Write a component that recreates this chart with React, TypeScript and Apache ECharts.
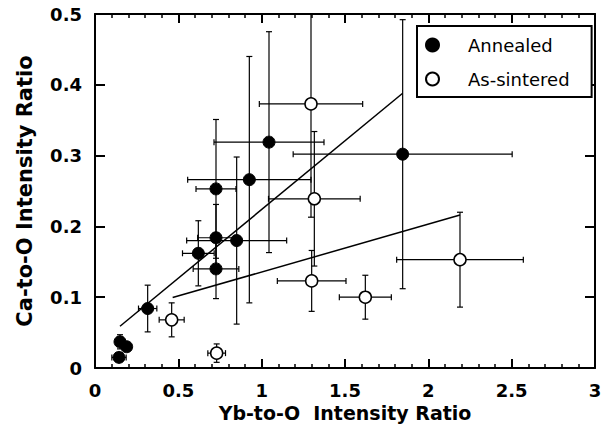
import React, { useEffect, useRef } from "react";
import * as echarts from "echarts";

// Annealed samples
const annealedX = [0.144, 0.15, 0.19, 0.316, 0.62, 0.726, 0.726, 0.85, 0.726, 0.926, 1.044, 1.846];
const annealedY = [0.015, 0.037, 0.03, 0.084, 0.162, 0.184, 0.14, 0.18, 0.253, 0.266, 0.319, 0.302];
const annealedXErr = [0.043, 0.02, 0.02, 0.055, 0.095, 0.11, 0.137, 0.3, 0.12, 0.37, 0.33, 0.657];
const annealedYErr = [0.006, 0.01, 0.006, 0.033, 0.046, 0.047, 0.042, 0.118, 0.098, 0.174, 0.156, 0.19];

// As-sintered samples
const sinteredX = [1.296, 1.316, 1.3, 1.622, 2.19, 0.46, 0.73];
const sinteredY = [0.373, 0.239, 0.123, 0.1, 0.153, 0.068, 0.021];
const sinteredXErr = [0.31, 0.275, 0.206, 0.156, 0.38, 0.075, 0.053];
const sinteredYErr = [0.16, 0.095, 0.043, 0.031, 0.067, 0.024, 0.013];

// Fit lines (end points)
const annealedFitX = [0.15, 1.846];
const annealedFitY = [0.059, 0.388];
const sinteredFitX = [0.466, 2.19];
const sinteredFitY = [0.0995, 0.216];

const seriesNames = ["Annealed", "As-sintered"];
const xTitle = "Yb-to-O  Intensity Ratio";
const yTitle = "Ca-to-O Intensity Ratio";

const FONT = "DejaVu Sans";

function zip(...arrs: number[][]) {
  return arrs[0].map((_, i) => arrs.map((a) => a[i]));
}

function errorRender(params: any, api: any) {
  const x = api.value(0);
  const y = api.value(1);
  const xe = api.value(2);
  const ye = api.value(3);
  const l = api.coord([x - xe, y]);
  const r = api.coord([x + xe, y]);
  const t = api.coord([x, y + ye]);
  const b = api.coord([x, y - ye]);
  const cap = 3;
  const style = { stroke: "#000", lineWidth: 1.2 };
  const ln = (x1: number, y1: number, x2: number, y2: number) => ({
    type: "line",
    shape: { x1, y1, x2, y2 },
    style,
  });
  return {
    type: "group",
    children: [
      ln(l[0], l[1], r[0], r[1]),
      ln(l[0], l[1] - cap, l[0], l[1] + cap),
      ln(r[0], r[1] - cap, r[0], r[1] + cap),
      ln(t[0], t[1], b[0], b[1]),
      ln(t[0] - cap, t[1], t[0] + cap, t[1]),
      ln(b[0] - cap, b[1], b[0] + cap, b[1]),
    ],
  };
}

export default function App() {
  const ref = useRef<HTMLDivElement>(null);
  useEffect(() => {
    if (!ref.current) return;
    const chart = echarts.init(ref.current, null, { renderer: "svg" });
    const axisLabel = {
      color: "#000",
      fontFamily: FONT,
      fontWeight: "bold",
      fontSize: 18,
      margin: 13,
    };
    const axisLine = { show: true, onZero: false, lineStyle: { color: "#000", width: 2 } };
    const option: any = {
      animation: false,
      backgroundColor: "#fff",
      grid: { left: 95, right: 7, top: 14, bottom: 66, containLabel: false, outerBoundsMode: "none" },
      legend: {
        data: seriesNames,
        orient: "vertical",
        left: 417,
        top: 26,
        padding: [10, 22, 9, 8],
        itemGap: 16,
        itemWidth: 13,
        itemHeight: 13,
        borderColor: "#000",
        borderWidth: 2,
        backgroundColor: "#fff",
        textStyle: { fontFamily: FONT, fontSize: 18, color: "#000", padding: [0, 0, 0, 24] },
      },
      xAxis: [
        {
          type: "value",
          min: 0,
          max: 3,
          interval: 0.5,
          position: "bottom",
          name: xTitle,
          nameLocation: "middle",
          nameGap: 32,
          nameTextStyle: { fontFamily: FONT, fontWeight: "bold", fontSize: 19, color: "#000" },
          axisLine,
          axisTick: { show: true, inside: true, length: 9, lineStyle: { color: "#000", width: 2 } },
          minorTick: { show: true, splitNumber: 5, length: 4, lineStyle: { color: "#000", width: 1.5 } },
          axisLabel,
          splitLine: { show: false },
        },
        {
          type: "value",
          min: 0,
          max: 3,
          interval: 0.5,
          position: "top",
          axisLine,
          axisTick: { show: true, inside: true, length: 9, lineStyle: { color: "#000", width: 2 } },
          minorTick: { show: true, splitNumber: 5, length: 4, lineStyle: { color: "#000", width: 1.5 } },
          axisLabel: { show: false },
          splitLine: { show: false },
        },
      ],
      yAxis: [
        {
          type: "value",
          min: 0,
          max: 0.5,
          interval: 0.1,
          position: "left",
          name: yTitle,
          nameLocation: "middle",
          nameGap: 60,
          nameTextStyle: { fontFamily: FONT, fontWeight: "bold", fontSize: 21, color: "#000" },
          axisLine,
          axisTick: { show: true, inside: true, length: 10, lineStyle: { color: "#000", width: 2 } },
          axisLabel,
          splitLine: { show: false },
        },
        {
          type: "value",
          min: 0,
          max: 0.5,
          interval: 0.1,
          position: "right",
          axisLine,
          axisTick: { show: true, inside: true, length: 10, lineStyle: { color: "#000", width: 2 } },
          axisLabel: { show: false },
          splitLine: { show: false },
        },
      ],
      series: [
        {
          name: "Annealed fit",
          type: "line",
          data: zip(annealedFitX, annealedFitY),
          showSymbol: false,
          symbol: "none",
          lineStyle: { color: "#000", width: 1.5 },
          z: 2,
          silent: true,
        },
        {
          name: "As-sintered fit",
          type: "line",
          data: zip(sinteredFitX, sinteredFitY),
          showSymbol: false,
          symbol: "none",
          lineStyle: { color: "#000", width: 1.5 },
          z: 2,
          silent: true,
        },
        {
          name: "Annealed error",
          type: "custom",
          renderItem: errorRender,
          data: zip(annealedX, annealedY, annealedXErr, annealedYErr),
          encode: { x: 0, y: 1 },
          clip: true,
          z: 1,
          silent: true,
        },
        {
          name: "As-sintered error",
          type: "custom",
          renderItem: errorRender,
          data: zip(sinteredX, sinteredY, sinteredXErr, sinteredYErr),
          encode: { x: 0, y: 1 },
          clip: true,
          z: 1,
          silent: true,
        },
        {
          name: seriesNames[0],
          type: "scatter",
          data: zip(annealedX, annealedY),
          symbol: "circle",
          symbolSize: 12,
          itemStyle: { color: "#000", borderColor: "#000", borderWidth: 1, opacity: 1 },
          z: 3,
        },
        {
          name: seriesNames[1],
          type: "scatter",
          data: zip(sinteredX, sinteredY),
          symbol: "circle",
          symbolSize: 12,
          itemStyle: { color: "#fff", borderColor: "#000", borderWidth: 1.5, opacity: 1 },
          z: 3,
        },
      ],
    };
    chart.setOption(option);
    return () => chart.dispose();
  }, []);
  return (
    <div
      ref={ref}
      style={{ position: "fixed", left: 0, top: 0, width: 602, height: 434, background: "#fff" }}
    />
  );
}
